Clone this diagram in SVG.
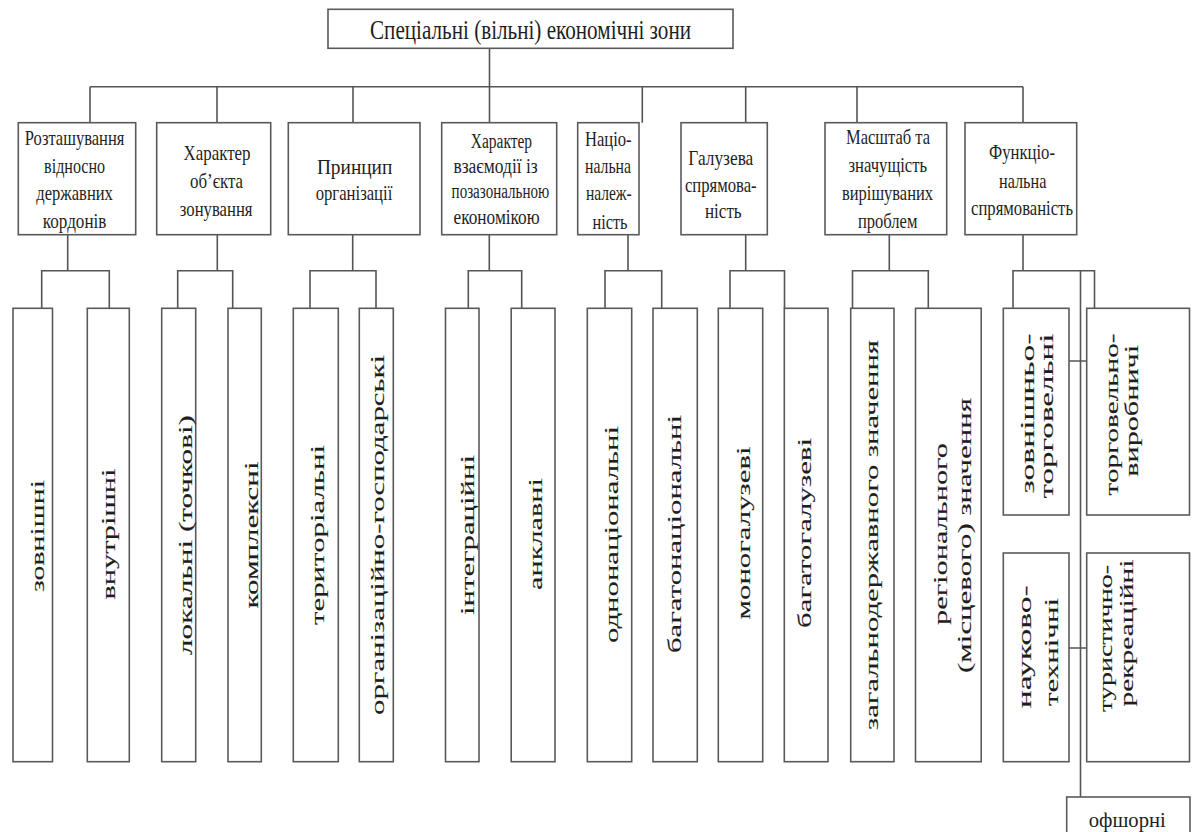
<svg xmlns="http://www.w3.org/2000/svg" width="1194" height="832" viewBox="0 0 1194 832">
<style>
.box{fill:#fff;stroke:#5a5a5a;stroke-width:1.6}
.ln{fill:none;stroke:#555;stroke-width:1.6}
.t{font-family:"Liberation Serif","Times New Roman",serif;fill:#1e1e1e;text-anchor:middle}
.c{font-size:22px}
.c4{font-size:20px}
.top{font-size:27px}
.lf{font-size:19px;dominant-baseline:central;stroke:#1e1e1e;stroke-width:0.12}
.of{font-size:22px}
</style>
<rect width="1194" height="832" fill="#fff"/>
<g id="connectors" class="ln">
<path d="M489.5,48.3V86.7M90,86.7H1023M90,86.7V122.7M217,86.7V122.7M353,86.7V122.7M489.5,86.7V122.7M642.3,86.7V122.7M745.7,86.7V122.7M857,86.7V122.7M1023,86.7V122.7"/>
<path d="M67.7,234.7V270.7M41.7,308.3V270.7H109.3V308.3"/>
<path d="M217.3,234.7V270.7M177.7,308.3V270.7H232.7V308.3"/>
<path d="M352.7,234.7V270.7M310,308.3V270.7H376V308.3"/>
<path d="M489.3,234.7V270.7M468.3,308.3V270.7H521.7V308.3"/>
<path d="M628,234.7V270.7M605,308.3V270.7H661.7V308.3"/>
<path d="M745.7,234.7V270.7M730,308.3V270.7H784.5V308.3"/>
<path d="M889.3,234.7V270.7M852.5,308.3V270.7H928.3V308.3"/>
<path d="M1023,234.7V270.7M1013,308.3V270.7H1094.5V308.3M1080.5,270.7V797M1069,361H1086.7M1069,648H1086.7"/>
</g>
<g id="root"><rect class="box" x="328" y="9.3" width="405" height="39"/><text class="t top" x="530.5" y="39.3" textLength="321" lengthAdjust="spacingAndGlyphs">Спеціальні (вільні) економічні зони</text></g>
<g id="cat1"><rect class="box" x="18.3" y="122.7" width="117.4" height="112"/>
<text class="t c" x="74.6" y="145" textLength="99.5" lengthAdjust="spacingAndGlyphs">Розташування</text>
<text class="t c" x="74.6" y="173" textLength="61" lengthAdjust="spacingAndGlyphs">відносно</text>
<text class="t c" x="74.6" y="200" textLength="76.5" lengthAdjust="spacingAndGlyphs">державних</text>
<text class="t c" x="74.6" y="228" textLength="63.5" lengthAdjust="spacingAndGlyphs">кордонів</text></g>
<g id="cat2"><rect class="box" x="156.7" y="122.7" width="114" height="112"/>
<text class="t c" x="217" y="160" textLength="67" lengthAdjust="spacingAndGlyphs">Характер</text>
<text class="t c" x="216.5" y="188.3" textLength="53" lengthAdjust="spacingAndGlyphs">об’єкта</text>
<text class="t c" x="216.2" y="216" textLength="72.7" lengthAdjust="spacingAndGlyphs">зонування</text></g>
<g id="cat3"><rect class="box" x="288.3" y="122.7" width="131.7" height="112"/>
<text class="t c" x="354.6" y="174" textLength="75.4" lengthAdjust="spacingAndGlyphs">Принцип</text>
<text class="t c" x="354" y="200" textLength="76.6" lengthAdjust="spacingAndGlyphs">організації</text></g>
<g id="cat4"><rect class="box" x="441.7" y="122.7" width="115" height="112"/>
<text class="t c4" x="501.4" y="148.3" textLength="61.3" lengthAdjust="spacingAndGlyphs">Характер</text>
<text class="t c4" x="495.6" y="173.3" textLength="84.2" lengthAdjust="spacingAndGlyphs">взаємодії із</text>
<text class="t c4" x="500.4" y="198.3" textLength="97.6" lengthAdjust="spacingAndGlyphs">позазональною</text>
<text class="t c4" x="496.6" y="224" textLength="86.1" lengthAdjust="spacingAndGlyphs">економікою</text></g>
<g id="cat5"><rect class="box" x="577.7" y="122.7" width="61.3" height="112"/>
<text class="t c" x="608.3" y="145.5" textLength="46.7" lengthAdjust="spacingAndGlyphs">Націо-</text>
<text class="t c" x="608" y="173.3" textLength="46" lengthAdjust="spacingAndGlyphs">нальна</text>
<text class="t c" x="608.8" y="200.3" textLength="45.7" lengthAdjust="spacingAndGlyphs">належ-</text>
<text class="t c" x="610" y="229" textLength="35" lengthAdjust="spacingAndGlyphs">ність</text></g>
<g id="cat6"><rect class="box" x="681" y="122.7" width="86.3" height="112"/>
<text class="t c" x="720.8" y="164.5" textLength="65" lengthAdjust="spacingAndGlyphs">Галузева</text>
<text class="t c" x="720.8" y="191.5" textLength="71.7" lengthAdjust="spacingAndGlyphs">спрямова-</text>
<text class="t c" x="723.3" y="217.5" textLength="36.7" lengthAdjust="spacingAndGlyphs">ність</text></g>
<g id="cat7"><rect class="box" x="825" y="122.7" width="121.7" height="112"/>
<text class="t c" x="888" y="144" textLength="84" lengthAdjust="spacingAndGlyphs">Масштаб та</text>
<text class="t c" x="887.8" y="171.7" textLength="78.5" lengthAdjust="spacingAndGlyphs">значущість</text>
<text class="t c" x="887.5" y="200" textLength="91" lengthAdjust="spacingAndGlyphs">вирішуваних</text>
<text class="t c" x="887.7" y="228.3" textLength="59.4" lengthAdjust="spacingAndGlyphs">проблем</text></g>
<g id="cat8"><rect class="box" x="965" y="122.7" width="111.7" height="112"/>
<text class="t c" x="1022" y="159.3" textLength="66" lengthAdjust="spacingAndGlyphs">Функціо-</text>
<text class="t c" x="1022.7" y="188.3" textLength="47.4" lengthAdjust="spacingAndGlyphs">нальна</text>
<text class="t c" x="1022" y="215" textLength="102" lengthAdjust="spacingAndGlyphs">спрямованість</text></g>
<g id="leaf1"><rect class="box" x="13" y="308.3" width="39.5" height="453.4"/><text class="t lf" transform="translate(37.5,536) rotate(-90)" textLength="112" lengthAdjust="spacingAndGlyphs">зовнішні</text></g>
<g id="leaf2"><rect class="box" x="87.3" y="308.3" width="42" height="453.4"/><text class="t lf" transform="translate(108.3,534) rotate(-90)" textLength="131" lengthAdjust="spacingAndGlyphs">внутрішні</text></g>
<g id="leaf3"><rect class="box" x="161.7" y="308.3" width="34" height="453.4"/><text class="t lf" transform="translate(185,535) rotate(-90)" textLength="240" lengthAdjust="spacingAndGlyphs">локальні (точкові)</text></g>
<g id="leaf4"><rect class="box" x="228" y="308.3" width="33.3" height="453.4"/><text class="t lf" transform="translate(251.5,535) rotate(-90)" textLength="147" lengthAdjust="spacingAndGlyphs">комплексні</text></g>
<g id="leaf5"><rect class="box" x="293.3" y="308.3" width="45" height="453.4"/><text class="t lf" transform="translate(317,535) rotate(-90)" textLength="180" lengthAdjust="spacingAndGlyphs">територіальні</text></g>
<g id="leaf6"><rect class="box" x="359.3" y="308.3" width="34" height="453.4"/><text class="t lf" transform="translate(377.5,535) rotate(-90)" textLength="360" lengthAdjust="spacingAndGlyphs">організаційно-господарські</text></g>
<g id="leaf7"><rect class="box" x="445.5" y="308.3" width="33.5" height="453.4"/><text class="t lf" transform="translate(467,535) rotate(-90)" textLength="160" lengthAdjust="spacingAndGlyphs">інтеграційні</text></g>
<g id="leaf8"><rect class="box" x="511.2" y="308.3" width="43.8" height="453.4"/><text class="t lf" transform="translate(535.5,534) rotate(-90)" textLength="112" lengthAdjust="spacingAndGlyphs">анклавні</text></g>
<g id="leaf9"><rect class="box" x="587.3" y="308.3" width="44.4" height="453.4"/><text class="t lf" transform="translate(611.8,534.5) rotate(-90)" textLength="217" lengthAdjust="spacingAndGlyphs">однонаціональні</text></g>
<g id="leaf10"><rect class="box" x="653" y="308.3" width="44.3" height="453.4"/><text class="t lf" transform="translate(674.5,534) rotate(-90)" textLength="238" lengthAdjust="spacingAndGlyphs">багатонаціональні</text></g>
<g id="leaf11"><rect class="box" x="718.3" y="308.3" width="44.4" height="453.4"/><text class="t lf" transform="translate(743.6,533) rotate(-90)" textLength="173" lengthAdjust="spacingAndGlyphs">моногалузеві</text></g>
<g id="leaf12"><rect class="box" x="784.3" y="308.3" width="43.7" height="453.4"/><text class="t lf" transform="translate(804.5,533) rotate(-90)" textLength="190" lengthAdjust="spacingAndGlyphs">багатогалузеві</text></g>
<g id="leaf13"><rect class="box" x="850.7" y="308.3" width="43.3" height="453.4"/><text class="t lf" transform="translate(871.8,535) rotate(-90)" textLength="390" lengthAdjust="spacingAndGlyphs">загальнодержавного значення</text></g>
<g id="leaf14"><rect class="box" x="915.5" y="308.3" width="65.7" height="453.4"/><text class="t lf" transform="translate(940,534) rotate(-90)" textLength="182" lengthAdjust="spacingAndGlyphs">регіонального</text><text class="t lf" transform="translate(964.5,535.5) rotate(-90)" textLength="275" lengthAdjust="spacingAndGlyphs">(місцевого) значення</text></g>
<g id="leaf15"><rect class="box" x="1003.3" y="308.3" width="65.7" height="206.7"/><text class="t lf" transform="translate(1027.5,413.5) rotate(-90)" textLength="160" lengthAdjust="spacingAndGlyphs">зовнішньо-</text><text class="t lf" transform="translate(1046.3,416) rotate(-90)" textLength="165" lengthAdjust="spacingAndGlyphs">торговельні</text></g>
<g id="leaf16"><rect class="box" x="1086.7" y="308.3" width="102.8" height="206.7"/><text class="t lf" transform="translate(1111.7,414.4) rotate(-90)" textLength="162" lengthAdjust="spacingAndGlyphs">торговельно-</text><text class="t lf" transform="translate(1131.7,410.8) rotate(-90)" textLength="132" lengthAdjust="spacingAndGlyphs">виробничі</text></g>
<g id="leaf17"><rect class="box" x="1003.3" y="553" width="65.7" height="208.7"/><text class="t lf" transform="translate(1024,646.7) rotate(-90)" textLength="123" lengthAdjust="spacingAndGlyphs">науково-</text><text class="t lf" transform="translate(1051.7,652) rotate(-90)" textLength="108" lengthAdjust="spacingAndGlyphs">технічні</text></g>
<g id="leaf18"><rect class="box" x="1086.7" y="553" width="102.8" height="208.7"/><text class="t lf" transform="translate(1105.8,638.5) rotate(-90)" textLength="147" lengthAdjust="spacingAndGlyphs">туристично-</text><text class="t lf" transform="translate(1126.7,633) rotate(-90)" textLength="147" lengthAdjust="spacingAndGlyphs">рекреаційні</text></g>
<g id="leaf19"><rect class="box" x="1066.7" y="797" width="123.3" height="42"/><text class="t of" x="1127.3" y="826.5" textLength="77" lengthAdjust="spacingAndGlyphs">офшорні</text></g>
</svg>
